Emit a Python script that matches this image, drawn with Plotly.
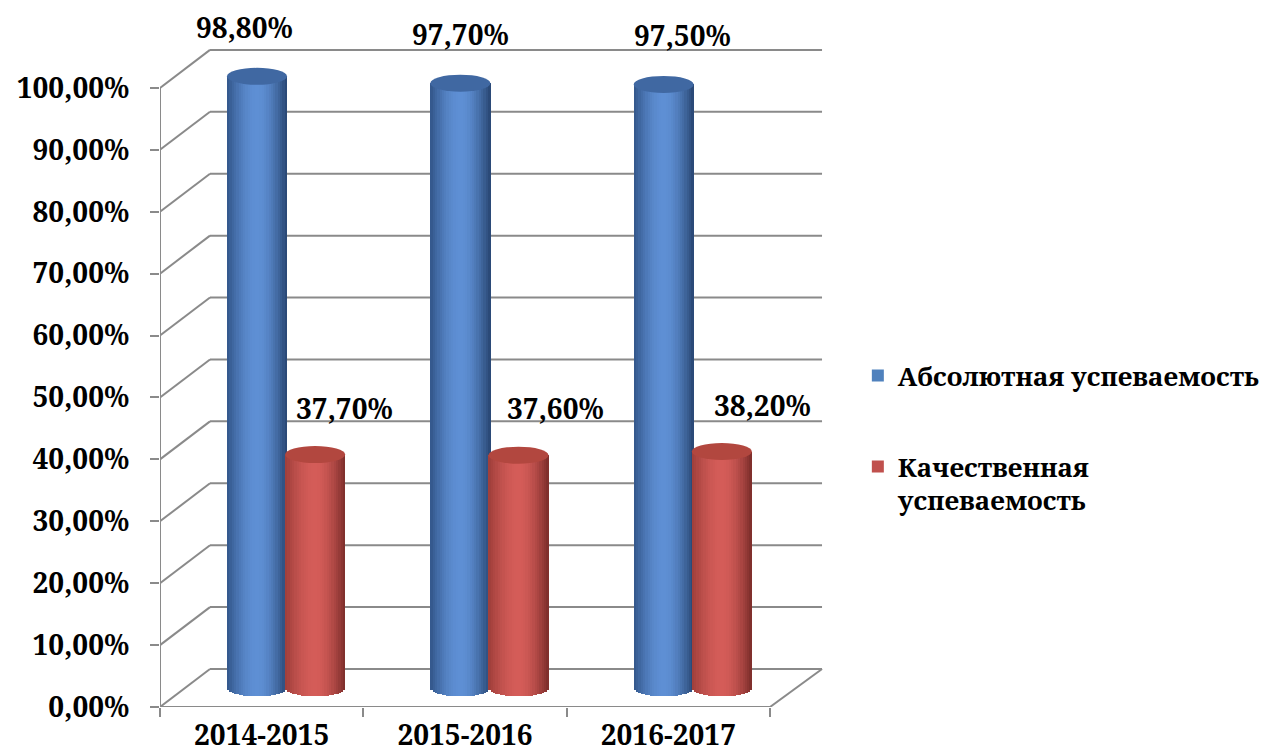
import math
import plotly.graph_objects as go

# ---------------- data ----------------
categories = ["2014-2015", "2015-2016", "2016-2017"]
series_names = ["Абсолютная успеваемость", "Качественная<br>успеваемость"]
absolute_vals = [98.8, 97.7, 97.5]
quality_vals = [37.7, 37.6, 38.2]
y_tick_vals = [0, 10, 20, 30, 40, 50, 60, 70, 80, 90, 100]
y_tick_text = ["0,00%", "10,00%", "20,00%", "30,00%", "40,00%", "50,00%",
               "60,00%", "70,00%", "80,00%", "90,00%", "100,00%"]

# ---------------- style / geometry ----------------
SERIF = "Noto Serif, DejaVu Serif, serif"
FONT_T = dict(family=SERIF, size=28, color="#000000", weight="bold")
FONT_L = dict(family=SERIF, size=26, color="#000000", weight="bold")
GRID = "#8a8a8a"
PX_PER_UNIT_Y = 681 / 110.0
PX_PER_CAT = 203.33
DEPTH_DX = 50 / PX_PER_CAT
DEPTH_DY = 38 / PX_PER_UNIT_Y
MID_BASE = DEPTH_DY / 2
BAR_W = 0.295
ELL_H = 8.5 / PX_PER_UNIT_Y
N_SLICES = 26

series_vals = [absolute_vals, quality_vals]
bar_center = [-0.023, 0.263]
edge_left = [(50, 86, 138), (158, 62, 58)]
peak = [(94, 143, 212), (212, 92, 88)]
edge_right = [(40, 70, 114), (124, 45, 42)]
top_color = ["#4068a2", "#b2473f"]
legend_color = ["#4F81BD", "#C0504D"]
label_dx = [[-0.082, -0.024, 0.072], [0.407, 0.443, 0.461]]
label_dy_px = [49, 47]


def lerp(a, b, f):
    return tuple(round(a[i] + (b[i] - a[i]) * f) for i in range(3))


def shade(si, s):
    p = 0.5
    if s <= p:
        f = math.sin((s / p) * math.pi / 2)
        c = lerp(edge_left[si], peak[si], f)
    else:
        f = 1 - math.cos(((s - p) / (1 - p)) * math.pi / 2)
        c = lerp(peak[si], edge_right[si], f)
    return "rgb(%d,%d,%d)" % c


fig = go.Figure()

slice_w = BAR_W / N_SLICES
for si, vals in enumerate(series_vals):
    for k in range(N_SLICES):
        s = (k + 0.5) / N_SLICES
        t = 2 * s - 1
        sag = ELL_H * math.sqrt(max(0.0, 1 - t * t))
        bottoms = [MID_BASE - sag for _ in vals]
        heights = [v + MID_BASE - b for v, b in zip(vals, bottoms)]
        fig.add_trace(go.Bar(
            x=categories, y=heights, base=bottoms,
            offset=bar_center[si] - BAR_W / 2 + k * slice_w,
            width=slice_w * 1.15,
            marker=dict(color=shade(si, s), line=dict(width=0)),
            showlegend=False, hoverinfo="skip",
        ))

for si in range(2):
    fig.add_trace(go.Bar(
        x=categories, y=[0, 0, 0], name=series_names[si],
        marker=dict(color=legend_color[si], line=dict(width=0)),
        legendgroup="g%d" % si, showlegend=True, hoverinfo="skip",
    ))

shapes = []
for v in y_tick_vals:
    shapes.append(dict(type="line", xref="x", yref="y", layer="below",
                       x0=-0.5 + DEPTH_DX, x1=2.5 + DEPTH_DX + 0.01,
                       y0=v + DEPTH_DY, y1=v + DEPTH_DY,
                       line=dict(color=GRID, width=2)))
    shapes.append(dict(type="line", xref="x", yref="y", layer="below",
                       x0=-0.5, x1=-0.5 + DEPTH_DX, y0=v, y1=v + DEPTH_DY,
                       line=dict(color=GRID, width=2)))
shapes.append(dict(type="line", xref="x", yref="y", layer="below",
                   x0=-0.5, x1=-0.5, y0=0, y1=100, line=dict(color=GRID, width=2)))
shapes.append(dict(type="line", xref="x", yref="y", layer="below",
                   x0=-0.5, x1=2.5, y0=0, y1=0, line=dict(color=GRID, width=2)))
shapes.append(dict(type="line", xref="x", yref="y", layer="below",
                   x0=2.5, x1=2.5 + DEPTH_DX + 0.01, y0=0, y1=DEPTH_DY,
                   line=dict(color=GRID, width=2)))
for si, vals in enumerate(series_vals):
    for i, v in enumerate(vals):
        c = i + bar_center[si]
        top = v + MID_BASE
        shapes.append(dict(type="circle", xref="x", yref="y", layer="above",
                           x0=c - BAR_W / 2, x1=c + BAR_W / 2,
                           y0=top - ELL_H, y1=top + ELL_H,
                           fillcolor=top_color[si], line=dict(width=0)))

annotations = []
for si, vals in enumerate(series_vals):
    for i, v in enumerate(vals):
        txt = ("%.2f" % v).replace(".", ",") + "%"
        annotations.append(dict(
            x=i + label_dx[si][i], y=v + MID_BASE + label_dy_px[si] / PX_PER_UNIT_Y,
            xref="x", yref="y", text=txt, showarrow=False,
            xanchor="center", yanchor="middle", font=FONT_T))

fig.update_layout(
    width=1264, height=747,
    margin=dict(l=152, r=441, t=18, b=48, autoexpand=False),
    paper_bgcolor="white", plot_bgcolor="white",
    barmode="overlay", bargap=0,
    shapes=shapes, annotations=annotations,
    xaxis=dict(type="category", range=[-0.5, 2.80], tickson="boundaries",
               ticks="outside", ticklen=9, tickwidth=2, tickcolor=GRID,
               ticklabelstandoff=9,
               showgrid=False, zeroline=False, showline=False, automargin=False,
               tickfont=FONT_T, fixedrange=True),
    yaxis=dict(range=[0, 110], tickvals=y_tick_vals, ticktext=y_tick_text,
               ticks="outside", ticklen=9, tickwidth=2, tickcolor=GRID,
               ticklabelstandoff=15, automargin=False,
               showgrid=False, zeroline=False, showline=False,
               tickfont=FONT_T, fixedrange=True),
    legend=dict(x=1.040, y=0.521, xanchor="left", yanchor="top",
                font=FONT_L, tracegroupgap=54, valign="top",
                bgcolor="rgba(0,0,0,0)"),
    showlegend=True,
)

fig.write_html("out.html")
